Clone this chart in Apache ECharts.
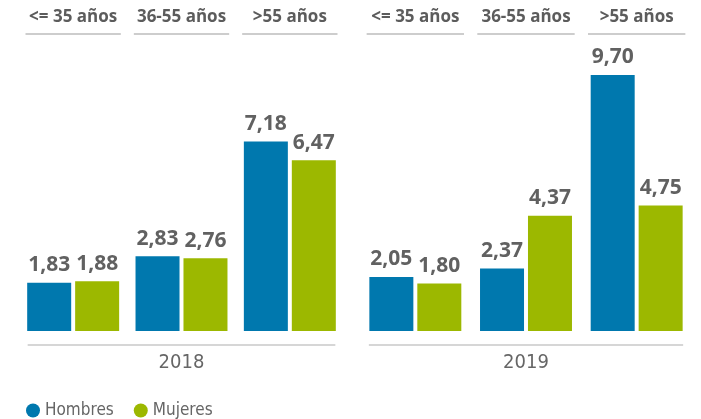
<!DOCTYPE html>
<html>
<head>
<meta charset="utf-8">
<script src="https://cdn.jsdelivr.net/npm/echarts@6/dist/echarts.min.js"></script>
<style>html,body{margin:0;padding:0;background:#fff;}#c{width:701px;height:419px;}</style>
</head>
<body>
<div id="c"></div>
<script>
var ageGroups = ['<= 35 años', '36-55 años', '>55 años'];
var years = ['2018', '2019'];
var seriesNames = ['Hombres', 'Mujeres'];
var hombres2018 = [1.83, 2.83, 7.18];
var mujeres2018 = [1.88, 2.76, 6.47];
var hombres2019 = [2.05, 2.37, 9.70];
var mujeres2019 = [1.80, 4.37, 4.75];

var BLUE = '#0078AE', GREEN = '#9CB800';
var NARROW = "'Liberation Sans Narrow', 'DejaVu Sans Condensed', Roboto, sans-serif";
var yMax = 11.25;
var chart = echarts.init(document.getElementById('c'), null, {renderer: 'canvas'});

function fmt(p) { return p.value.toFixed(2).replace('.', ','); }
var labelCfg = {show: true, position: 'top', distance: 7, formatter: fmt,
  fontFamily: 'Open Sans', fontWeight: 'bold', fontSize: 21, color: '#616161'};

function bottomAxis(grid, year) {
  return {type: 'category', gridIndex: grid, data: ageGroups, position: 'bottom', offset: 14,
    axisLine: {show: false, onZero: false},
    axisTick: {show: false}, axisLabel: {show: false},
    name: year, nameLocation: 'middle', nameGap: 8,
    nameTextStyle: {fontFamily: NARROW, fontSize: 20, color: '#666', verticalAlign: 'top'}};
}
function topAxis(grid) {
  return {type: 'category', gridIndex: grid, data: ageGroups, position: 'top',
    axisLine: {show: false, onZero: false}, axisTick: {show: false},
    axisLabel: {margin: 8, fontFamily: 'Open Sans', fontWeight: 'bold', fontSize: 17, color: '#5c5c5c', interval: 0}};
}
// header underlines, one per age group, along the top of the plot
function underline(xi, yi) {
  return {type: 'custom', xAxisIndex: xi, yAxisIndex: yi, silent: true, clip: false,
    data: ageGroups.map(function (g, i) { return [i]; }),
    encode: {x: 0},
    renderItem: function (params, api) {
      var c = api.coord([api.value(0), yMax]);
      var w = api.size([1, 0])[0];
      return {type: 'line', shape: {x1: c[0] - w * 0.44, y1: c[1], x2: c[0] + w * 0.44, y2: c[1]},
        style: {stroke: '#bdbdbd', lineWidth: 1.5}};
    }};
}
// baseline under each year group, spanning first to last age group
function baseline(xi, yi) {
  return {type: 'custom', xAxisIndex: xi, yAxisIndex: yi, silent: true, clip: false,
    data: [[0, ageGroups.length - 1]],
    encode: {x: [0, 1]},
    renderItem: function (params, api) {
      var a = api.coord([api.value(0), 0]);
      var b = api.coord([api.value(1), 0]);
      var w = api.size([1, 0])[0];
      var y = a[1] + 14;
      return {type: 'line', shape: {x1: a[0] - w * 0.42, y1: y, x2: b[0] + w * 0.42, y2: y},
        style: {stroke: '#c8c8c8', lineWidth: 1.5}};
    }};
}
function bar(name, data, xi, yi, color) {
  return {type: 'bar', name: name, data: data, xAxisIndex: xi, yAxisIndex: yi,
    barWidth: 44, barGap: '9%', itemStyle: {color: color}, label: labelCfg};
}

chart.setOption({
  animation: false,
  grid: [
    {left: 19, width: 325, top: 34, bottom: 88},
    {left: 360, width: 332, top: 34, bottom: 88}
  ],
  legend: {
    data: seriesNames, left: 21, top: 397, icon: 'circle', itemWidth: 14, itemHeight: 14, itemGap: 20,
    textStyle: {fontFamily: NARROW, fontSize: 17, color: '#666'}
  },
  xAxis: [bottomAxis(0, years[0]), topAxis(0), bottomAxis(1, years[1]), topAxis(1)],
  yAxis: [
    {type: 'value', gridIndex: 0, min: 0, max: yMax, show: false},
    {type: 'value', gridIndex: 1, min: 0, max: yMax, show: false}
  ],
  series: [
    bar(seriesNames[0], hombres2018, 0, 0, BLUE),
    bar(seriesNames[1], mujeres2018, 0, 0, GREEN),
    bar(seriesNames[0], hombres2019, 2, 1, BLUE),
    bar(seriesNames[1], mujeres2019, 2, 1, GREEN),
    underline(1, 0),
    underline(3, 1),
    baseline(0, 0),
    baseline(2, 1)
  ]
});
</script>
</body>
</html>
